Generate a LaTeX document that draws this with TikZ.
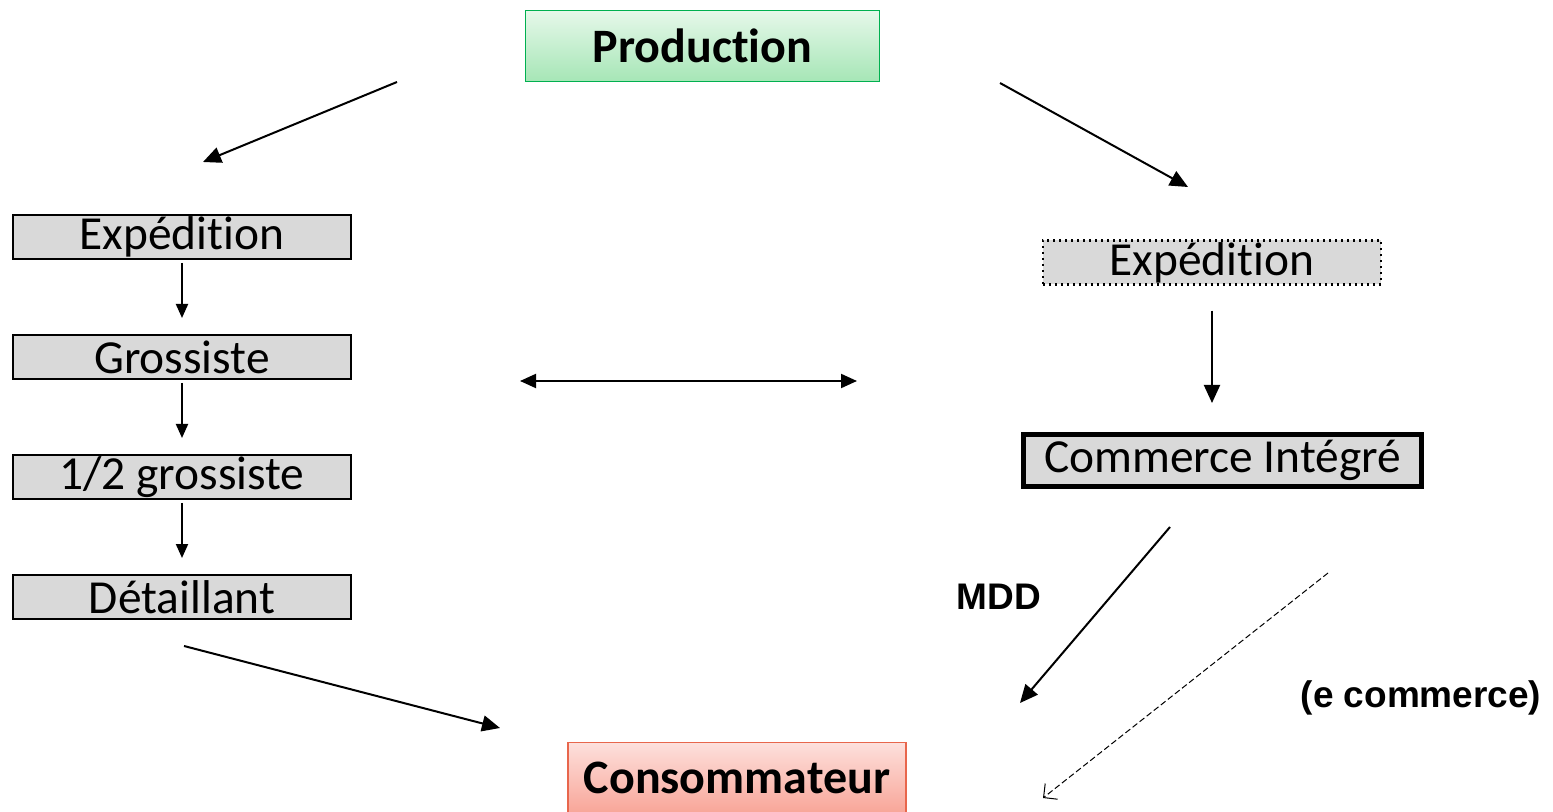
\documentclass[tikz,border=0pt]{standalone}
\usepackage{fontspec}
\setmainfont{Carlito}[Ligatures=NoCommon]
\newfontfamily\labelfont{Liberation Sans}
\usetikzlibrary{arrows.meta}
\definecolor{boxgray}{HTML}{D9D9D9}
\definecolor{prodline}{HTML}{00B050}
\definecolor{prodtop}{HTML}{E6F8EA}
\definecolor{prodbot}{HTML}{A6E6B6}
\definecolor{consline}{HTML}{E8664C}
\definecolor{constop}{HTML}{FDE0DC}
\definecolor{consbot}{HTML}{F8A598}

\begin{document}
\begin{tikzpicture}[x=0.5pt,y=-0.5pt,
  etape/.style={rectangle,draw,line width=1pt,fill=boxgray,inner sep=0pt,
    minimum width=169pt,minimum height=22pt,font=\fontsize{23.7}{26}\selectfont},
  pole/.style={rectangle,draw,line width=0.8pt,inner sep=0pt,
    minimum width=177pt,minimum height=35.5pt,font=\fontsize{24}{27}\selectfont\bfseries},
  fleche/.style={-{Triangle[length=9pt,width=8pt]},line width=1pt},
  petite/.style={-{Triangle[length=7pt,width=6pt]},line width=1pt},
  etiquette/.style={font=\labelfont\fontsize{18.5}{21}\selectfont\bfseries}]
\useasboundingbox (0,0) rectangle (1553,812);

\path (702.5,46) node[pole,draw=prodline,top color=prodtop,bottom color=prodbot] (prod) {Production};
\path (737,778) node[pole,draw=consline,top color=constop,bottom color=consbot,minimum width=169pt] (cons) {Consommateur};

% circuit traditionnel
\path (182,237) node[etape] (exp1) {Expédition};
\path (182,357) node[etape] (gros) {Grossiste};
\path (182,477) node[etape] (demi) {1/2 grossiste};
\path (182,597) node[etape] (det) {Détaillant};
\draw[petite,shorten <=1.5pt,shorten >=8pt] (exp1) -- (gros);
\draw[petite,shorten <=1.5pt,shorten >=8pt] (gros) -- (demi);
\draw[petite,shorten <=1.5pt,shorten >=8pt] (demi) -- (det);

% circuit integre
\path (1212,262.5) node[etape,dotted,line width=1.2pt] (exp2) {Expédition};
\path (1222.5,460.5) node[etape,line width=2.5pt,minimum width=199pt,minimum height=26pt] (ci) {Commerce Intégré};
\draw[fleche,shorten <=12.5pt,shorten >=14.5pt] (exp2.south) -- (exp2.south |- ci.north);

\coordinate (p1) at (397,82);
\coordinate (p2) at (203,162);
\coordinate (p3) at (1000,83);
\coordinate (p4) at (1188,187);
\coordinate (d1) at (184,646);
\coordinate (d2) at (500,728);
\coordinate (m1) at (1170,527);
\coordinate (m2) at (1020,703);
\coordinate (e1) at (1328,573);
\coordinate (e2) at (1043,798);
\coordinate (g) at (520,381);
\coordinate (h) at (857,381);

\draw[fleche] (p1) -- (p2);
\draw[fleche] (p3) -- (p4);
\draw[fleche] (d1) -- (d2);
\draw[fleche] (m1) -- (m2);
\draw[{Triangle[length=8pt,width=7pt]}-{Triangle[length=8pt,width=7pt]},line width=1pt] (g) -- (h);
\draw[-{Straight Barb[length=5pt,width=10pt]},line width=0.5pt,dash pattern=on 3pt off 1.5pt] (e1) -- (e2);

\path (999,597) node[etiquette] (mdd) {MDD};
\path (1421,698) node[etiquette] (ecom) {(e commerce)};
\end{tikzpicture}
\end{document}
